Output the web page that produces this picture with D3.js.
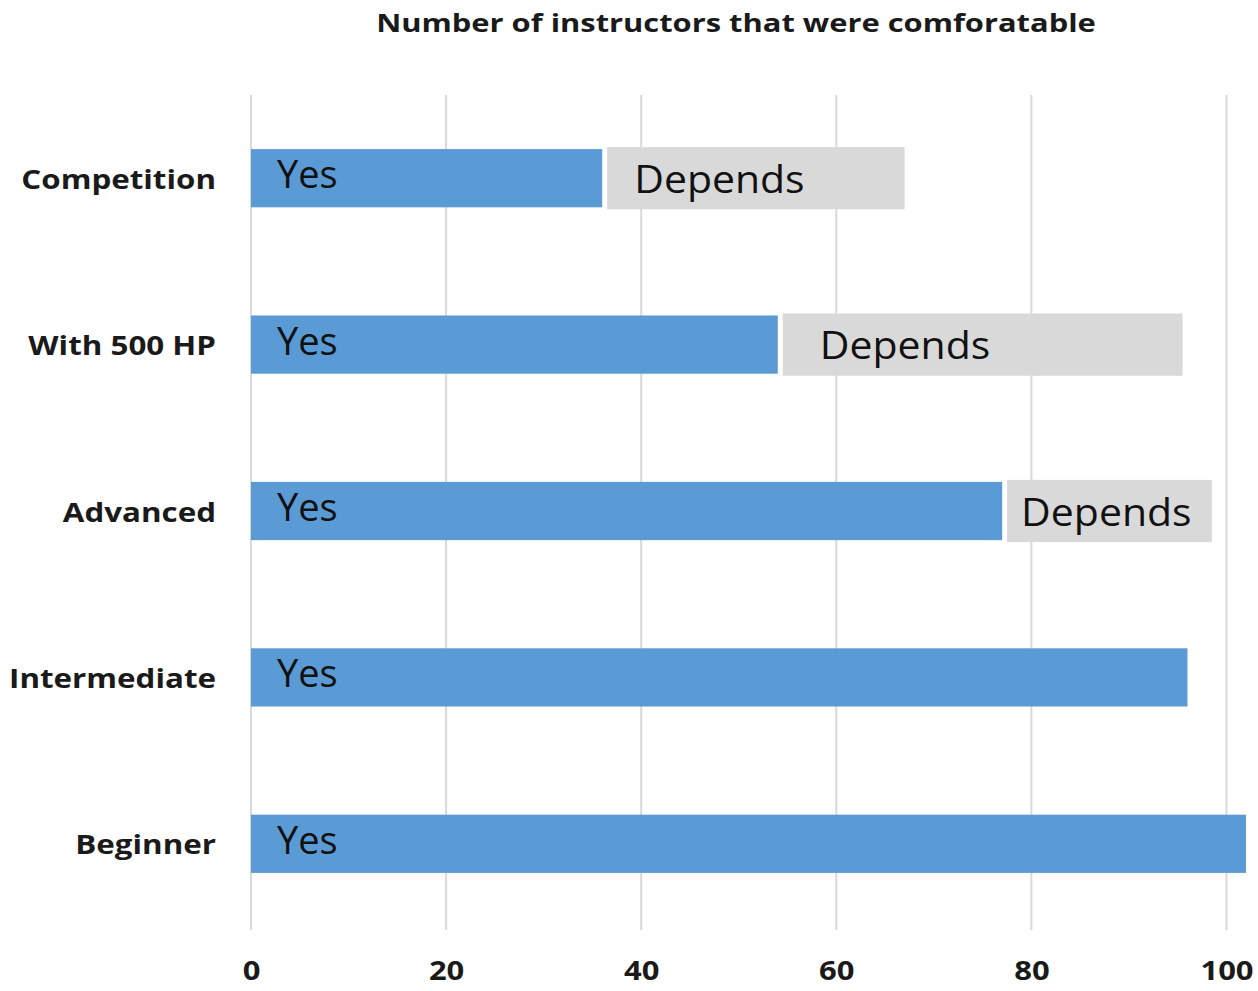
<!DOCTYPE html>
<html>
<head>
<meta charset="utf-8">
<script src="https://cdn.jsdelivr.net/npm/d3@7"></script>
<style>
  html, body { margin: 0; padding: 0; background: #fff; }
  svg { display: block; }
</style>
</head>
<body>
<svg id="chart" width="1258" height="991"></svg>
<script>
const categories = ["Competition", "With 500 HP", "Advanced", "Intermediate", "Beginner"];
const yesValues = [36, 54, 77, 96, 102];
const dependsValues = [31, 41.5, 21.5, 0, 0];
const xTicks = [0, 20, 40, 60, 80, 100];
const title = "Number of instructors that were comforatable";
const dependsLabelOffset = [27, 37, 14, 0, 0];

const svg = d3.select("#chart");
const x = d3.scaleLinear().domain([0, 100]).range([251, 1226.5]);
const y = d3.scaleBand().domain(categories).range([95, 927]).paddingInner(0.65).paddingOuter(0.325);

function stretch(sel, factor) {
  sel.each(function() {
    const len = this.getComputedTextLength();
    d3.select(this).attr("textLength", len * factor).attr("lengthAdjust", "spacingAndGlyphs");
  });
}

// gridlines
svg.append("g").selectAll("line").data(xTicks).join("line")
  .attr("x1", d => x(d)).attr("x2", d => x(d))
  .attr("y1", 95).attr("y2", 930)
  .attr("stroke", "#d9d9d9").attr("stroke-width", 2);

// title
svg.append("text").attr("x", 736).attr("y", 32)
  .attr("text-anchor", "middle")
  .attr("font-family", "Open Sans").attr("font-weight", "bold").attr("font-size", 25)
  .attr("fill", "#1a1a1a").text(title)
  .call(stretch, 1.234);

const rows = categories.map((c, i) => ({c, yes: yesValues[i], dep: dependsValues[i], off: dependsLabelOffset[i]}));

// yes bars
svg.append("g").selectAll("rect").data(rows).join("rect")
  .attr("x", x(0))
  .attr("y", d => y(d.c))
  .attr("width", d => x(d.yes) - x(0))
  .attr("height", y.bandwidth())
  .attr("fill", "#5b9bd5");

// depends bars
const depRows = rows.filter(d => d.dep > 0);
svg.append("g").selectAll("rect").data(depRows).join("rect")
  .attr("x", d => x(d.yes) + 5)
  .attr("y", d => y(d.c) - 2)
  .attr("width", d => x(d.yes + d.dep) - x(d.yes) - 5)
  .attr("height", y.bandwidth() + 4)
  .attr("fill", "#d9d9d9");

// yes labels
svg.append("g").selectAll("text").data(rows).join("text")
  .attr("x", x(0) + 26)
  .attr("y", d => y(d.c) + y.bandwidth() / 2 - 5)
  .attr("dominant-baseline", "central")
  .attr("font-family", "Open Sans").attr("font-size", 38)
  .attr("fill", "#111").text("Yes");

// depends labels
svg.append("g").selectAll("text").data(depRows).join("text")
  .attr("x", d => x(d.yes) + 5 + d.off)
  .attr("y", d => y(d.c) + y.bandwidth() / 2 - 1)
  .attr("dominant-baseline", "central")
  .attr("font-family", "Open Sans").attr("font-size", 39)
  .attr("fill", "#111").text("Depends")
  .call(stretch, 1.05);

// category labels
svg.append("g").selectAll("text").data(categories).join("text")
  .attr("x", 216)
  .attr("y", d => y(d) + y.bandwidth() / 2)
  .attr("text-anchor", "end")
  .attr("dominant-baseline", "central")
  .attr("font-family", "Open Sans").attr("font-weight", "bold").attr("font-size", 27)
  .attr("fill", "#1a1a1a").text(d => d)
  .call(stretch, 1.16);

// x axis
const xAxis = svg.append("g").attr("transform", "translate(0,962)")
  .call(d3.axisBottom(x).tickValues(xTicks).tickSize(0).tickPadding(0));
xAxis.select(".domain").remove();
xAxis.selectAll("text")
  .attr("font-family", "Open Sans").attr("font-weight", "bold").attr("font-size", 26)
  .attr("fill", "#1a1a1a")
  .call(stretch, 1.19);
</script>
</body>
</html>
